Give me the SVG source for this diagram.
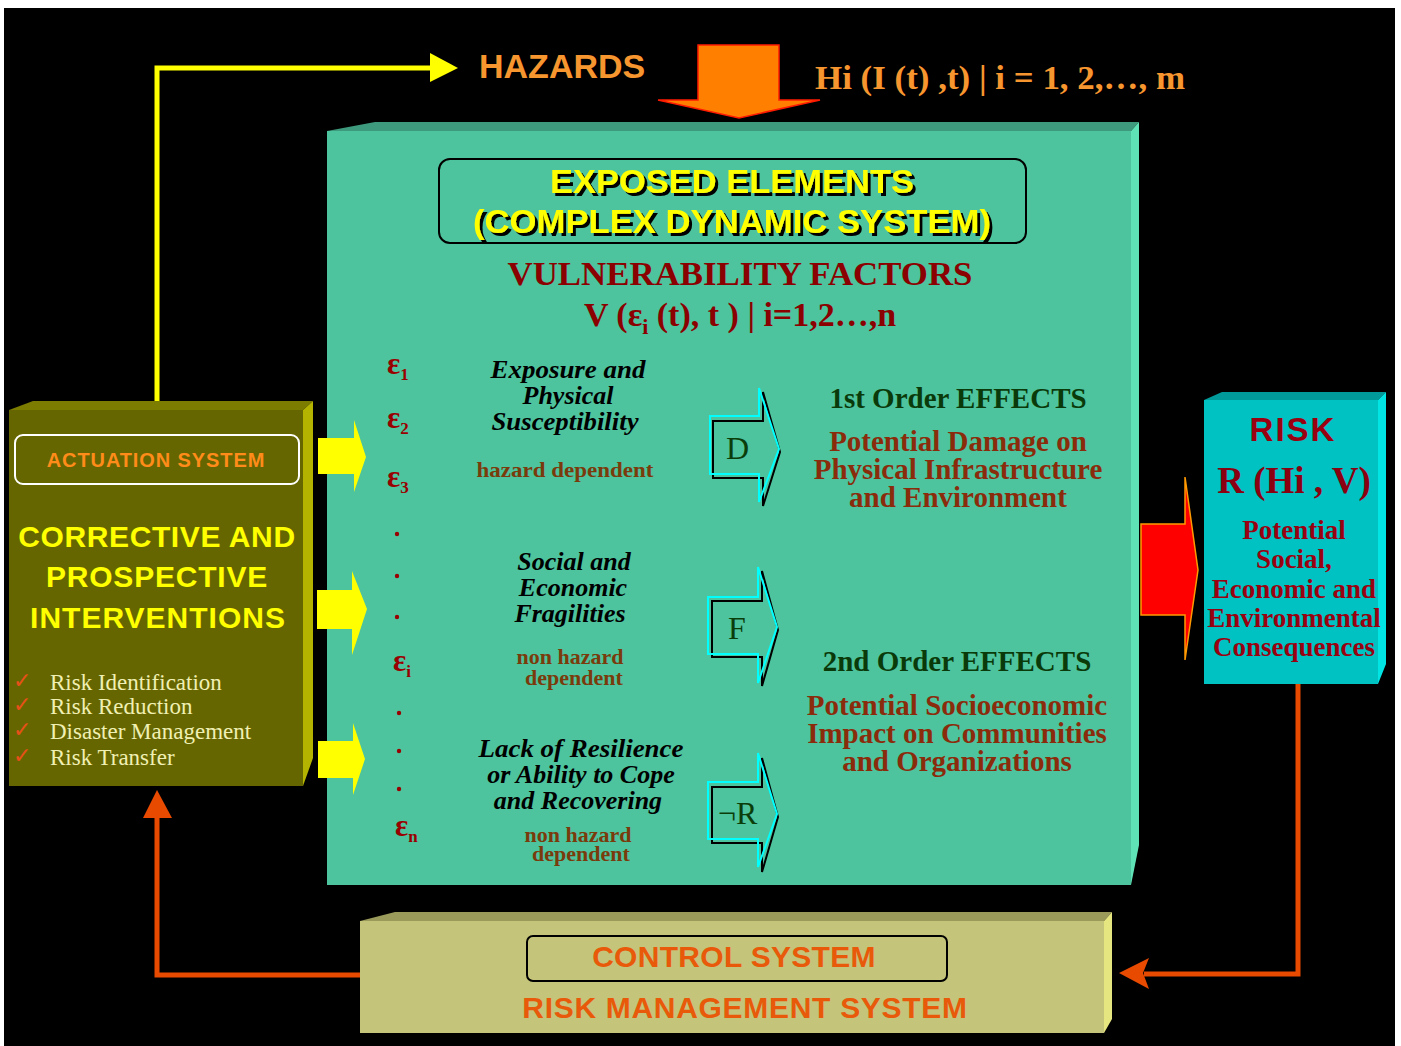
<svg xmlns="http://www.w3.org/2000/svg" width="1401" height="1046" viewBox="0 0 1401 1046">
<defs>
<style>
.serifb{font-family:"Liberation Serif","Times New Roman",serif;font-weight:bold}
.serif{font-family:"Liberation Serif","Times New Roman",serif}
.sansb{font-family:"Liberation Sans",Arial,sans-serif;font-weight:bold}
.ital{font-family:"Liberation Serif","Times New Roman",serif;font-weight:bold;font-style:italic;font-size:26px;fill:#000;text-anchor:middle}
.dep{font-family:"Liberation Serif","Times New Roman",serif;font-weight:bold;font-size:22px;fill:#7A3B0C;text-anchor:middle}
.eps{font-family:"Liberation Serif","Times New Roman",serif;font-weight:bold;font-size:31px;fill:#990000}
.eff{font-family:"Liberation Serif","Times New Roman",serif;font-weight:bold;font-size:29px;fill:#0A3A0A;text-anchor:middle}
.pot{font-family:"Liberation Serif","Times New Roman",serif;font-weight:bold;font-size:29px;fill:#8A2C0C;text-anchor:middle}
.risk{font-family:"Liberation Serif","Times New Roman",serif;font-weight:bold;font-size:27px;fill:#990010;text-anchor:middle}
.chk{font-family:"DejaVu Sans",sans-serif;font-size:22px;font-weight:bold;fill:#E8501A}
.item{font-family:"Liberation Serif","Times New Roman",serif;font-size:23px;fill:#F0F0B4}
.lett{font-family:"Liberation Serif","Times New Roman",serif;font-size:32px;fill:#0B3D0B}
.cyanout{fill:none;stroke:#00FFFF;stroke-width:2}
.blackout{fill:none;stroke:#000;stroke-width:2}
.yarrow{fill:#FFFF00}
.orline{fill:none;stroke:#E84A00;stroke-width:5}
.orhead{fill:#E84A00}
</style>
<filter id="shadow" x="-5%" y="-20%" width="110%" height="140%">
<feDropShadow dx="3" dy="3" stdDeviation="0.4" flood-color="#000" flood-opacity="1"/>
</filter>
</defs>

<rect x="0" y="0" width="1401" height="1046" fill="#fff"/>
<rect x="4" y="8" width="1391" height="1038" fill="#000"/>

<!-- Main exposed elements box -->
<g id="exposed-elements">
<polygon points="327,131 375,122 1139,122 1131,131" fill="#3E9A7C"/>
<polygon points="1131,131 1139,122 1139,845 1131,885" fill="#5FE2B5"/>
<rect x="327" y="131" width="804" height="754" fill="#4DC49D"/>
<rect x="439" y="159" width="587" height="84" rx="11" fill="none" stroke="#000" stroke-width="2"/>
<g filter="url(#shadow)">
<text x="732" y="193" class="sansb" font-size="34" fill="#FFFF00" text-anchor="middle" textLength="364" lengthAdjust="spacingAndGlyphs">EXPOSED ELEMENTS</text>
<text x="732" y="233" class="sansb" font-size="34" fill="#FFFF00" text-anchor="middle" textLength="518" lengthAdjust="spacingAndGlyphs">(COMPLEX DYNAMIC SYSTEM)</text>
</g>
<text x="740" y="285" class="serifb" font-size="34" fill="#8B0000" text-anchor="middle" textLength="465" lengthAdjust="spacingAndGlyphs">VULNERABILITY FACTORS</text>
<text x="740" y="326" class="serifb" font-size="34" fill="#8B0000" text-anchor="middle">V (ε<tspan font-size="22" dy="8">i</tspan><tspan dy="-8"> (t), t ) | i=1,2…,n</tspan></text>

<text x="387" y="374" class="eps">ε<tspan font-size="17" dy="6">1</tspan></text>
<text x="387" y="428" class="eps">ε<tspan font-size="17" dy="6">2</tspan></text>
<text x="387" y="487" class="eps">ε<tspan font-size="17" dy="6">3</tspan></text>
<circle cx="397" cy="534" r="2.2" fill="#990000"/>
<circle cx="397" cy="576" r="2.2" fill="#990000"/>
<circle cx="397" cy="617" r="2.2" fill="#990000"/>
<text x="393" y="671" class="eps">ε<tspan font-size="17" dy="6">i</tspan></text>
<circle cx="399" cy="713" r="2.2" fill="#990000"/>
<circle cx="399" cy="751" r="2.2" fill="#990000"/>
<circle cx="399" cy="789" r="2.2" fill="#990000"/>
<text x="395" y="836" class="eps">ε<tspan font-size="17" dy="6">n</tspan></text>

<text x="568" y="378" class="ital" textLength="155" lengthAdjust="spacingAndGlyphs">Exposure and</text>
<text x="568" y="404" class="ital">Physical</text>
<text x="565" y="430" class="ital" textLength="147" lengthAdjust="spacingAndGlyphs">Susceptibility</text>
<text x="565" y="477" class="dep" textLength="177" lengthAdjust="spacingAndGlyphs">hazard dependent</text>

<text x="574" y="570" class="ital">Social and</text>
<text x="573" y="596" class="ital">Economic</text>
<text x="570" y="622" class="ital">Fragilities</text>
<text x="570" y="664" class="dep">non hazard</text>
<text x="574" y="685" class="dep">dependent</text>

<text x="581" y="757" class="ital" textLength="205" lengthAdjust="spacingAndGlyphs">Lack of Resilience</text>
<text x="581" y="783" class="ital">or Ability to Cope</text>
<text x="578" y="809" class="ital">and Recovering</text>
<text x="578" y="842" class="dep">non hazard</text>
<text x="581" y="861" class="dep">dependent</text>

<text x="958" y="408" class="eff">1st Order EFFECTS</text>
<text x="958" y="451" class="pot">Potential Damage on</text>
<text x="958" y="479" class="pot">Physical Infrastructure</text>
<text x="958" y="507" class="pot">and Environment</text>

<text x="957" y="671" class="eff">2nd Order EFFECTS</text>
<text x="957" y="715" class="pot">Potential Socioeconomic</text>
<text x="957" y="743" class="pot">Impact on Communities</text>
<text x="957" y="771" class="pot">and Organizations</text>
</g>

<!-- Vulnerability factor arrows -->
<g id="factor-D">
<polygon class="blackout" points="713,421 763,421 763,392 780,452 763,506 763,478 713,478"/>
<polygon class="cyanout" points="710,416 759,416 759,388 779,449 759,502 759,474 710,474"/>
<text x="726" y="459" class="lett">D</text>
</g>
<g id="factor-F">
<polygon class="blackout" points="712,601 762,601 762,571 778,630 762,686 762,657 712,657"/>
<polygon class="cyanout" points="708,597 758,597 758,567 777,627 758,683 758,654 708,654"/>
<text x="728" y="639" class="lett">F</text>
</g>
<g id="factor-R">
<polygon class="blackout" points="712,787 762,787 762,758 778,817 762,872 762,843 712,843"/>
<polygon class="cyanout" points="708,782 758,782 758,753 777,814 758,867 758,839 708,839"/>
<text x="718" y="824" class="lett">¬R</text>
</g>

<!-- Hazards -->
<g id="hazards">
<text x="479" y="78" class="sansb" font-size="34" fill="#F7962F">HAZARDS</text>
<text x="815" y="89" class="serifb" font-size="33" fill="#F7962F" textLength="370" lengthAdjust="spacingAndGlyphs">Hi (I (t) ,t)  | i = 1, 2,…, m</text>
</g>

<!-- Actuation system -->
<g id="actuation-system">
<polygon points="9,410 33,401 313,401 303,410" fill="#7C7C00"/>
<polygon points="303,410 313,401 313,758 303,786" fill="#B3B300"/>
<rect x="9" y="410" width="294" height="376" fill="#666600"/>
<rect x="15" y="435" width="284" height="49" rx="8" fill="none" stroke="#fff" stroke-width="2"/>
<text x="156" y="467" class="sansb" font-size="20" fill="#FF8C1A" text-anchor="middle" letter-spacing="0.9">ACTUATION SYSTEM</text>
<text x="157" y="547" class="sansb" font-size="30" fill="#FFFF00" text-anchor="middle" letter-spacing="0.6">CORRECTIVE AND</text>
<text x="157" y="587" class="sansb" font-size="30" fill="#FFFF00" text-anchor="middle" letter-spacing="0.8">PROSPECTIVE</text>
<text x="158" y="628" class="sansb" font-size="30" fill="#FFFF00" text-anchor="middle" letter-spacing="1">INTERVENTIONS</text>
<text x="13" y="688" class="chk">✓</text>
<text x="13" y="712" class="chk">✓</text>
<text x="13" y="737" class="chk">✓</text>
<text x="13" y="763" class="chk">✓</text>
<text x="50" y="690" class="item">Risk Identification</text>
<text x="50" y="714" class="item">Risk Reduction</text>
<text x="50" y="739" class="item">Disaster Management</text>
<text x="50" y="765" class="item">Risk Transfer</text>
</g>

<!-- Risk -->
<g id="risk">
<polygon points="1204,400 1222,392 1386,392 1378,400" fill="#009A9A"/>
<polygon points="1378,400 1386,392 1386,664 1378,684" fill="#00E4E4"/>
<rect x="1204" y="400" width="174" height="284" fill="#00C2C2"/>
<text x="1293" y="441" class="sansb" font-size="33" fill="#990010" text-anchor="middle" letter-spacing="2">RISK</text>
<text x="1294" y="493" class="serifb" font-size="37" fill="#8B0010" text-anchor="middle">R (Hi , V)</text>
<text x="1294" y="539" class="risk">Potential</text>
<text x="1294" y="568" class="risk">Social,</text>
<text x="1294" y="598" class="risk">Economic and</text>
<text x="1294" y="627" class="risk">Environmental</text>
<text x="1294" y="656" class="risk">Consequences</text>
</g>

<!-- Control system -->
<g id="control-system">
<polygon points="360,921 395,912 1112,912 1104,921" fill="#9A9A5A"/>
<polygon points="1104,921 1112,912 1112,1019 1104,1033" fill="#E6E680"/>
<rect x="360" y="921" width="744" height="112" fill="#C4C47A"/>
<rect x="527" y="936" width="420" height="45" rx="6" fill="none" stroke="#000" stroke-width="2"/>
<text x="734" y="967" class="sansb" font-size="30" fill="#E85A0A" text-anchor="middle" letter-spacing="0.3">CONTROL SYSTEM</text>
<text x="745" y="1018" class="sansb" font-size="30" fill="#E85A0A" text-anchor="middle" letter-spacing="0.7">RISK MANAGEMENT SYSTEM</text>
</g>

<!-- Connectors -->
<g id="connectors">
<polyline points="157,401 157,68 432,68" fill="none" stroke="#FFFF00" stroke-width="5"/>
<polygon points="430,53 458,68 430,82" fill="#FFFF00"/>

<polygon points="698,45 779,45 779,100 820,100 739,118 658,100 698,100" fill="#FF8000" stroke="#FF1A00" stroke-width="1.5"/>

<polygon class="yarrow" points="318,438 354,438 354,420 366,457 354,492 354,474 318,474"/>
<polygon class="yarrow" points="317,590 352,590 352,571 367,609 352,655 352,629 317,629"/>
<polygon class="yarrow" points="318,741 353,741 353,723 365,759 353,795 353,778 318,778"/>

<polygon points="1141,524 1185,524 1185,477 1198,570 1185,660 1185,615 1141,615" fill="#FF0000" stroke="#FF9900" stroke-width="1.5"/>

<polyline class="orline" points="1298,684 1298,974 1144,974"/>
<polygon class="orhead" points="1149,958 1119,973 1149,989 1143,973"/>

<polyline class="orline" points="360,975 157,975 157,812"/>
<polygon class="orhead" points="143,818 157,790 172,818"/>
</g>
</svg>
